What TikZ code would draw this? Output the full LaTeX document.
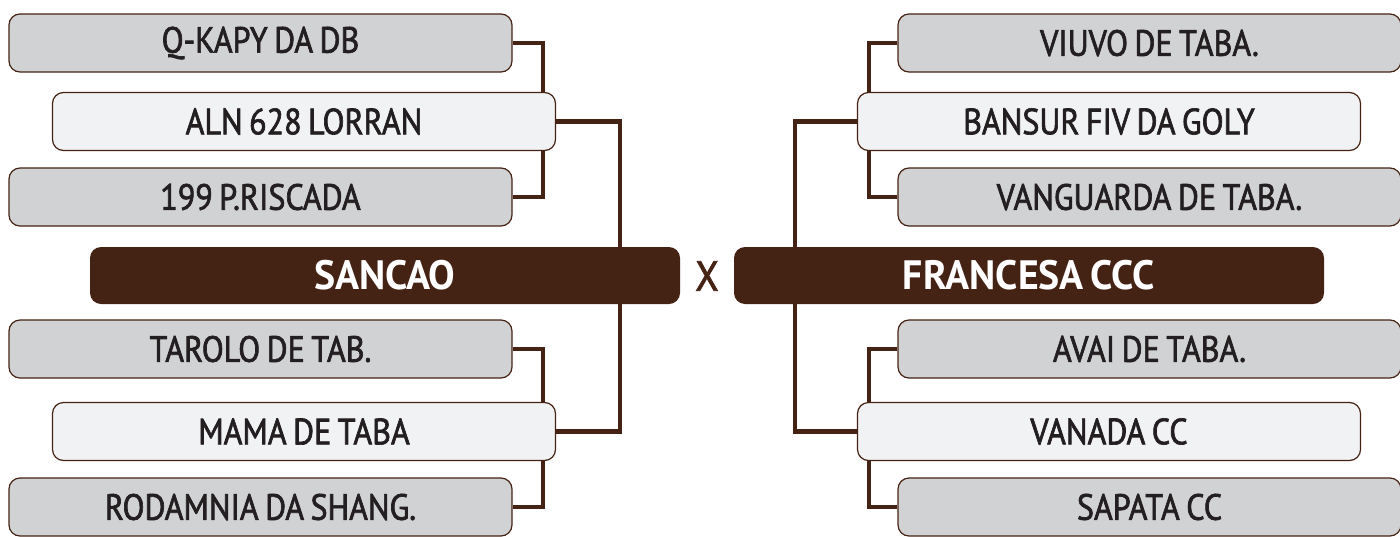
\documentclass[tikz,border=0pt]{standalone}
\usepackage{fontspec}
\setmainfont{PT Sans}[FakeStretch=0.88, FakeBold=1.8, WordSpace=0.75]
\newfontfamily\titlefont{PT Sans}[FakeStretch=0.97, WordSpace=0.7]
\newfontfamily\xfont{PT Sans}[FakeStretch=0.9, FakeBold=1.8]
\definecolor{brn}{HTML}{452314}
\definecolor{gfill}{HTML}{D1D2D4}
\definecolor{lfill}{HTML}{F1F2F4}
\definecolor{txt}{HTML}{231F20}
\tikzset{
  box/.style={draw=brn, line width=1.2pt, rounded corners=11pt, inner sep=0pt, text=txt, font=\fontsize{36.5}{40}\selectfont, minimum height=58pt},
  gbox/.style={box, fill=gfill, minimum width=503pt},
  lbox/.style={box, fill=lfill, minimum width=503pt},
  tbox/.style={draw=none, fill=brn, rounded corners=11pt, inner sep=0pt, text=white, font=\titlefont\fontsize{41}{46}\selectfont\bfseries, minimum width=590pt, minimum height=57pt},
  ghost/.style={draw=none, fill=none},
  link/.style={draw=brn, line width=4.8pt}
}
\begin{document}
\begin{tikzpicture}[x=1pt,y=-1pt]
\useasboundingbox (0,0) rectangle (1400,536);
\coordinate (lA) at (543,0);
\coordinate (lB) at (620,0);
\coordinate (rA) at (869,0);
\coordinate (rB) at (795,0);
% placeholder shapes, used to route the connectors under the boxes
\path
 (260.5,43)  node[gbox,ghost] (q1) {}
 (304,121.5) node[lbox,ghost] (q2) {}
 (260.5,197) node[gbox,ghost] (q3) {}
 (385,275.5) node[tbox,ghost] (s) {}
 (260.5,349) node[gbox,ghost] (b1) {}
 (304,431.5) node[lbox,ghost] (b2) {}
 (260.5,507) node[gbox,ghost] (b3) {}
 (1149.5,43)  node[gbox,ghost] (r1) {}
 (1109,121.5) node[lbox,ghost] (r2) {}
 (1149.5,197) node[gbox,ghost] (r3) {}
 (1029,275.5) node[tbox,ghost] (f) {}
 (1149.5,349) node[gbox,ghost] (s1) {}
 (1109,431.5) node[lbox,ghost] (s2) {}
 (1149.5,507) node[gbox,ghost] (s3) {};
% connectors
\draw[link] (q1.east) -| (lA |- q2.north) (q2.south -| lA) |- (q3.east);
\draw[link] (b1.east) -| (lA |- b2.north) (b2.south -| lA) |- (b3.east);
\draw[link] (q2.east) -| (lB |- s.north) (s.south -| lB) |- (b2.east);
\draw[link] (r1.west) -| (rA |- r2.north) (r2.south -| rA) |- (r3.west);
\draw[link] (s1.west) -| (rA |- s2.north) (s2.south -| rA) |- (s3.west);
\draw[link] (r2.west) -| (rB |- f.north) (f.south -| rB) |- (s2.west);
% visible boxes
\node[gbox] (Q1) at (q1) {Q-KAPY DA DB};
\node[lbox] (Q2) at (q2) {ALN 628 LORRAN};
\node[gbox] (Q3) at (q3) {199 P.RISCADA};
\node[tbox] (S) at (s) {SANCAO};
\node[gbox] (B1) at (b1) {TAROLO DE TAB.};
\node[lbox] (B2) at (b2) {MAMA DE TABA};
\node[gbox] (B3) at (b3) {RODAMNIA DA SHANG.};
\node[gbox] (R1) at (r1) {VIUVO DE TABA.};
\node[lbox] (R2) at (r2) {BANSUR FIV DA GOLY};
\node[gbox] (R3) at (r3) {VANGUARDA DE TABA.};
\node[tbox] (F) at (f) {FRANCESA CCC};
\node[gbox] (S1) at (s1) {AVAI DE TABA.};
\node[lbox] (S2) at (s2) {VANADA CC};
\node[gbox] (S3) at (s3) {SAPATA CC};
\node[text=brn, font=\xfont\fontsize{42}{46}\selectfont, inner sep=0pt] (X) at (707,276) {X};
\end{tikzpicture}
\end{document}
